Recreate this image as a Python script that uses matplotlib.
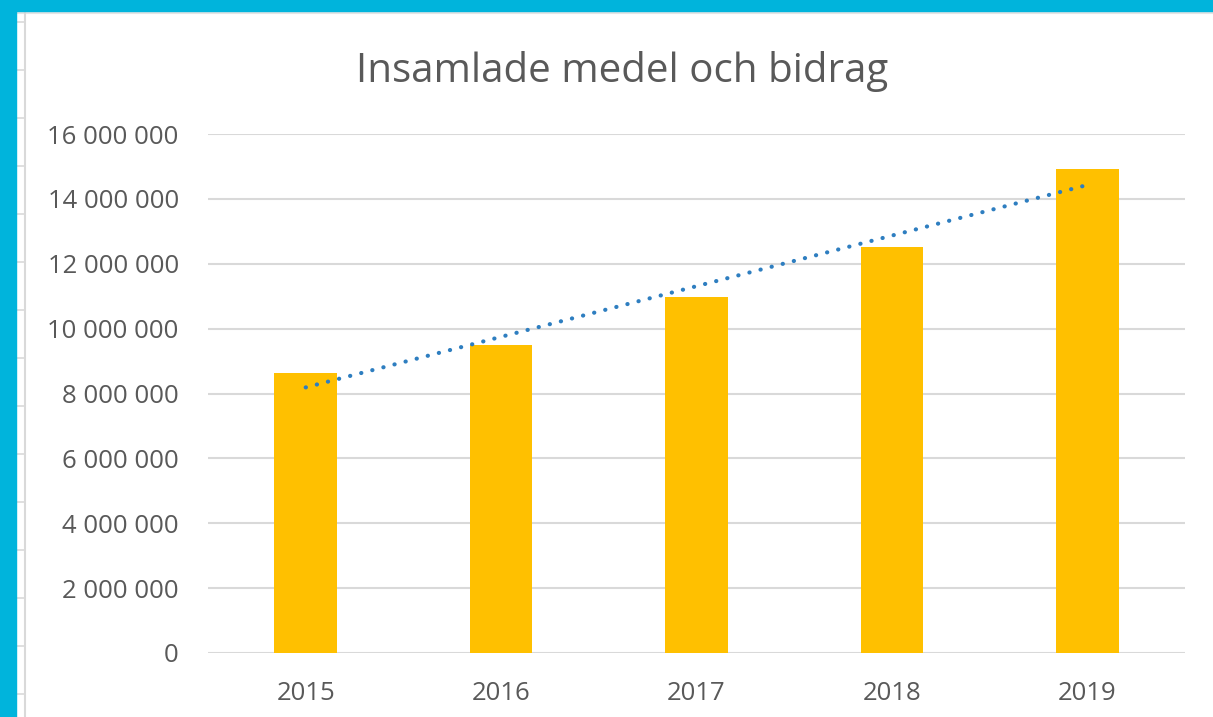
import numpy as np
import matplotlib
matplotlib.use("Agg")
import matplotlib.pyplot as plt
from matplotlib.patches import Rectangle
from matplotlib.lines import Line2D
from matplotlib.ticker import FuncFormatter

years = ["2015", "2016", "2017", "2018", "2019"]
values = [8630000, 9500000, 10970000, 12520000, 14920000]
title = "Insamlade medel och bidrag"

W, H = 1213, 717
fig = plt.figure(figsize=(W / 100, H / 100), dpi=100)
fig.patch.set_facecolor("white")

# frame decorations
cyan = "#00B4DC"
fig.add_artist(Rectangle((0, 1 - 11 / H), 1, 11 / H, transform=fig.transFigure, color=cyan, zorder=5))
fig.add_artist(Rectangle((0, 0), 16 / W, 1, transform=fig.transFigure, color=cyan, zorder=5))
fig.add_artist(Line2D([16 / W, 1], [1 - 12.5 / H, 1 - 12.5 / H], transform=fig.transFigure, color="#e4e4e4", lw=1.5))
fig.add_artist(Line2D([24.5 / W, 24.5 / W], [0, 1 - 12 / H], transform=fig.transFigure, color="#d9d9d9", lw=1.5))
for yy in range(22, H, 48):
    fig.add_artist(Line2D([16 / W, 24 / W], [1 - yy / H, 1 - yy / H], transform=fig.transFigure, color="#d9d9d9", lw=1.2))

ax = fig.add_axes([208 / W, 1 - 653 / H, (1185 - 208) / W, (653 - 134) / H])
x = np.arange(len(years))
ax.bar(x, values, width=0.32, color="#FFC000", zorder=2)

coef = np.polyfit(x, values, 1)
trend = np.polyval(coef, x)
ax.plot(x, trend, color="#2E7EC0", lw=3.0, linestyle=(0, (0.05, 2.7)),
        dash_capstyle="round", solid_capstyle="round", zorder=3)

ax.set_xlim(-0.5, len(years) - 0.5)
ax.set_ylim(0, 16000000)
ax.set_yticks(np.arange(0, 16000001, 2000000))
ax.yaxis.set_major_formatter(FuncFormatter(lambda v, p: f"{int(v):,}".replace(",", " ")))
ax.set_xticks(x)
ax.set_xticklabels(years)
ax.grid(axis="y", color="#d9d9d9", lw=1.5, zorder=0)
for s in ax.spines.values():
    s.set_visible(False)
ax.tick_params(axis="both", length=0, labelsize=18.5, colors="#595959")
ax.tick_params(axis="y", pad=21)
ax.tick_params(axis="x", pad=20)

fig.text(622 / W, 1 - 82 / H, title, ha="center", va="baseline", fontsize=29,
         color="#595959", family="Open Sans")
for lbl in ax.get_xticklabels() + ax.get_yticklabels():
    lbl.set_family("Open Sans")

fig.savefig("out.png", dpi=100, facecolor="white")
